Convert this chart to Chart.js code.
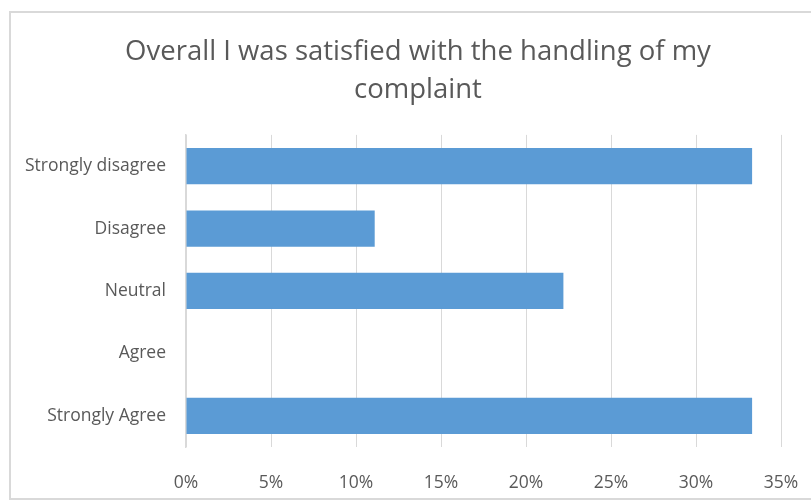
<!DOCTYPE html>
<html>
<head>
<meta charset="utf-8">
<script src="https://cdn.jsdelivr.net/npm/chart.js@4/dist/chart.umd.min.js"></script>
<style>
  html, body { margin: 0; padding: 0; background: #ffffff; }
  #wrap { width: 811px; height: 500px; position: relative; }
</style>
</head>
<body>
<div id="wrap"><canvas id="c" width="811" height="500"></canvas></div>
<script>
const titleLines = ['Overall I was satisfied with the handling of my', 'complaint'];
const categories = ['Strongly disagree', 'Disagree', 'Neutral', 'Agree', 'Strongly Agree'];
const values = [33.3, 11.1, 22.2, 0, 33.3];
const xTickMin = 0;
const xTickMax = 35;
const xTickStep = 5;

const FONT = '"Open Sans", Lato, sans-serif';
const TEXT = '#595959';

const frame = {
  id: 'frame',
  afterLayout(chart) {
    // centre the title on the (wider) chart frame, like the original
    const t = chart.titleBlock;
    if (t) { t.left = 25; t.right = 811; }
  },
  beforeDraw(chart) {
    const ctx = chart.ctx;
    ctx.save();
    ctx.fillStyle = '#ffffff';
    ctx.fillRect(0, 0, chart.width, chart.height);
    ctx.strokeStyle = '#d9d9d9';
    ctx.lineWidth = 2;
    ctx.strokeRect(10, 12, 830, 487);
    ctx.restore();
  }
};

new Chart(document.getElementById('c'), {
  type: 'bar',
  data: {
    labels: categories,
    datasets: [{
      data: values,
      backgroundColor: '#5b9bd5',
      borderWidth: 0,
      categoryPercentage: 1,
      barPercentage: 0.58
    }]
  },
  options: {
    indexAxis: 'y',
    responsive: false,
    animation: false,
    devicePixelRatio: 1,
    layout: { padding: { left: 12, right: 30, top: 0, bottom: 0 } },
    plugins: {
      legend: { display: false },
      tooltip: { enabled: false },
      title: {
        display: true,
        text: titleLines,
        color: TEXT,
        font: { family: FONT, size: 27.5, weight: 'normal', lineHeight: 1.38 },
        padding: { top: 33, bottom: 26 }
      }
    },
    scales: {
      x: {
        min: xTickMin,
        max: xTickMax,
        ticks: {
          stepSize: xTickStep,
          color: TEXT,
          font: { family: FONT, size: 17.5, lineHeight: 1.2 },
          padding: 26,
          callback: v => v + '%'
        },
        grid: { color: '#d9d9d9', lineWidth: 1, drawTicks: false },
        border: { display: false },
        afterFit(scale) {
          scale.height = 53;
          scale.paddingLeft = 0;
          scale.paddingRight = 0;
        }
      },
      y: {
        ticks: {
          color: TEXT,
          font: { family: FONT, size: 17.5 },
          padding: 20
        },
        grid: { display: false, drawTicks: false },
        border: { display: true, color: '#d9d9d9', width: 1.5 },
        afterFit(scale) { scale.width = 174; }
      }
    }
  },
  plugins: [frame]
});
</script>
</body>
</html>
